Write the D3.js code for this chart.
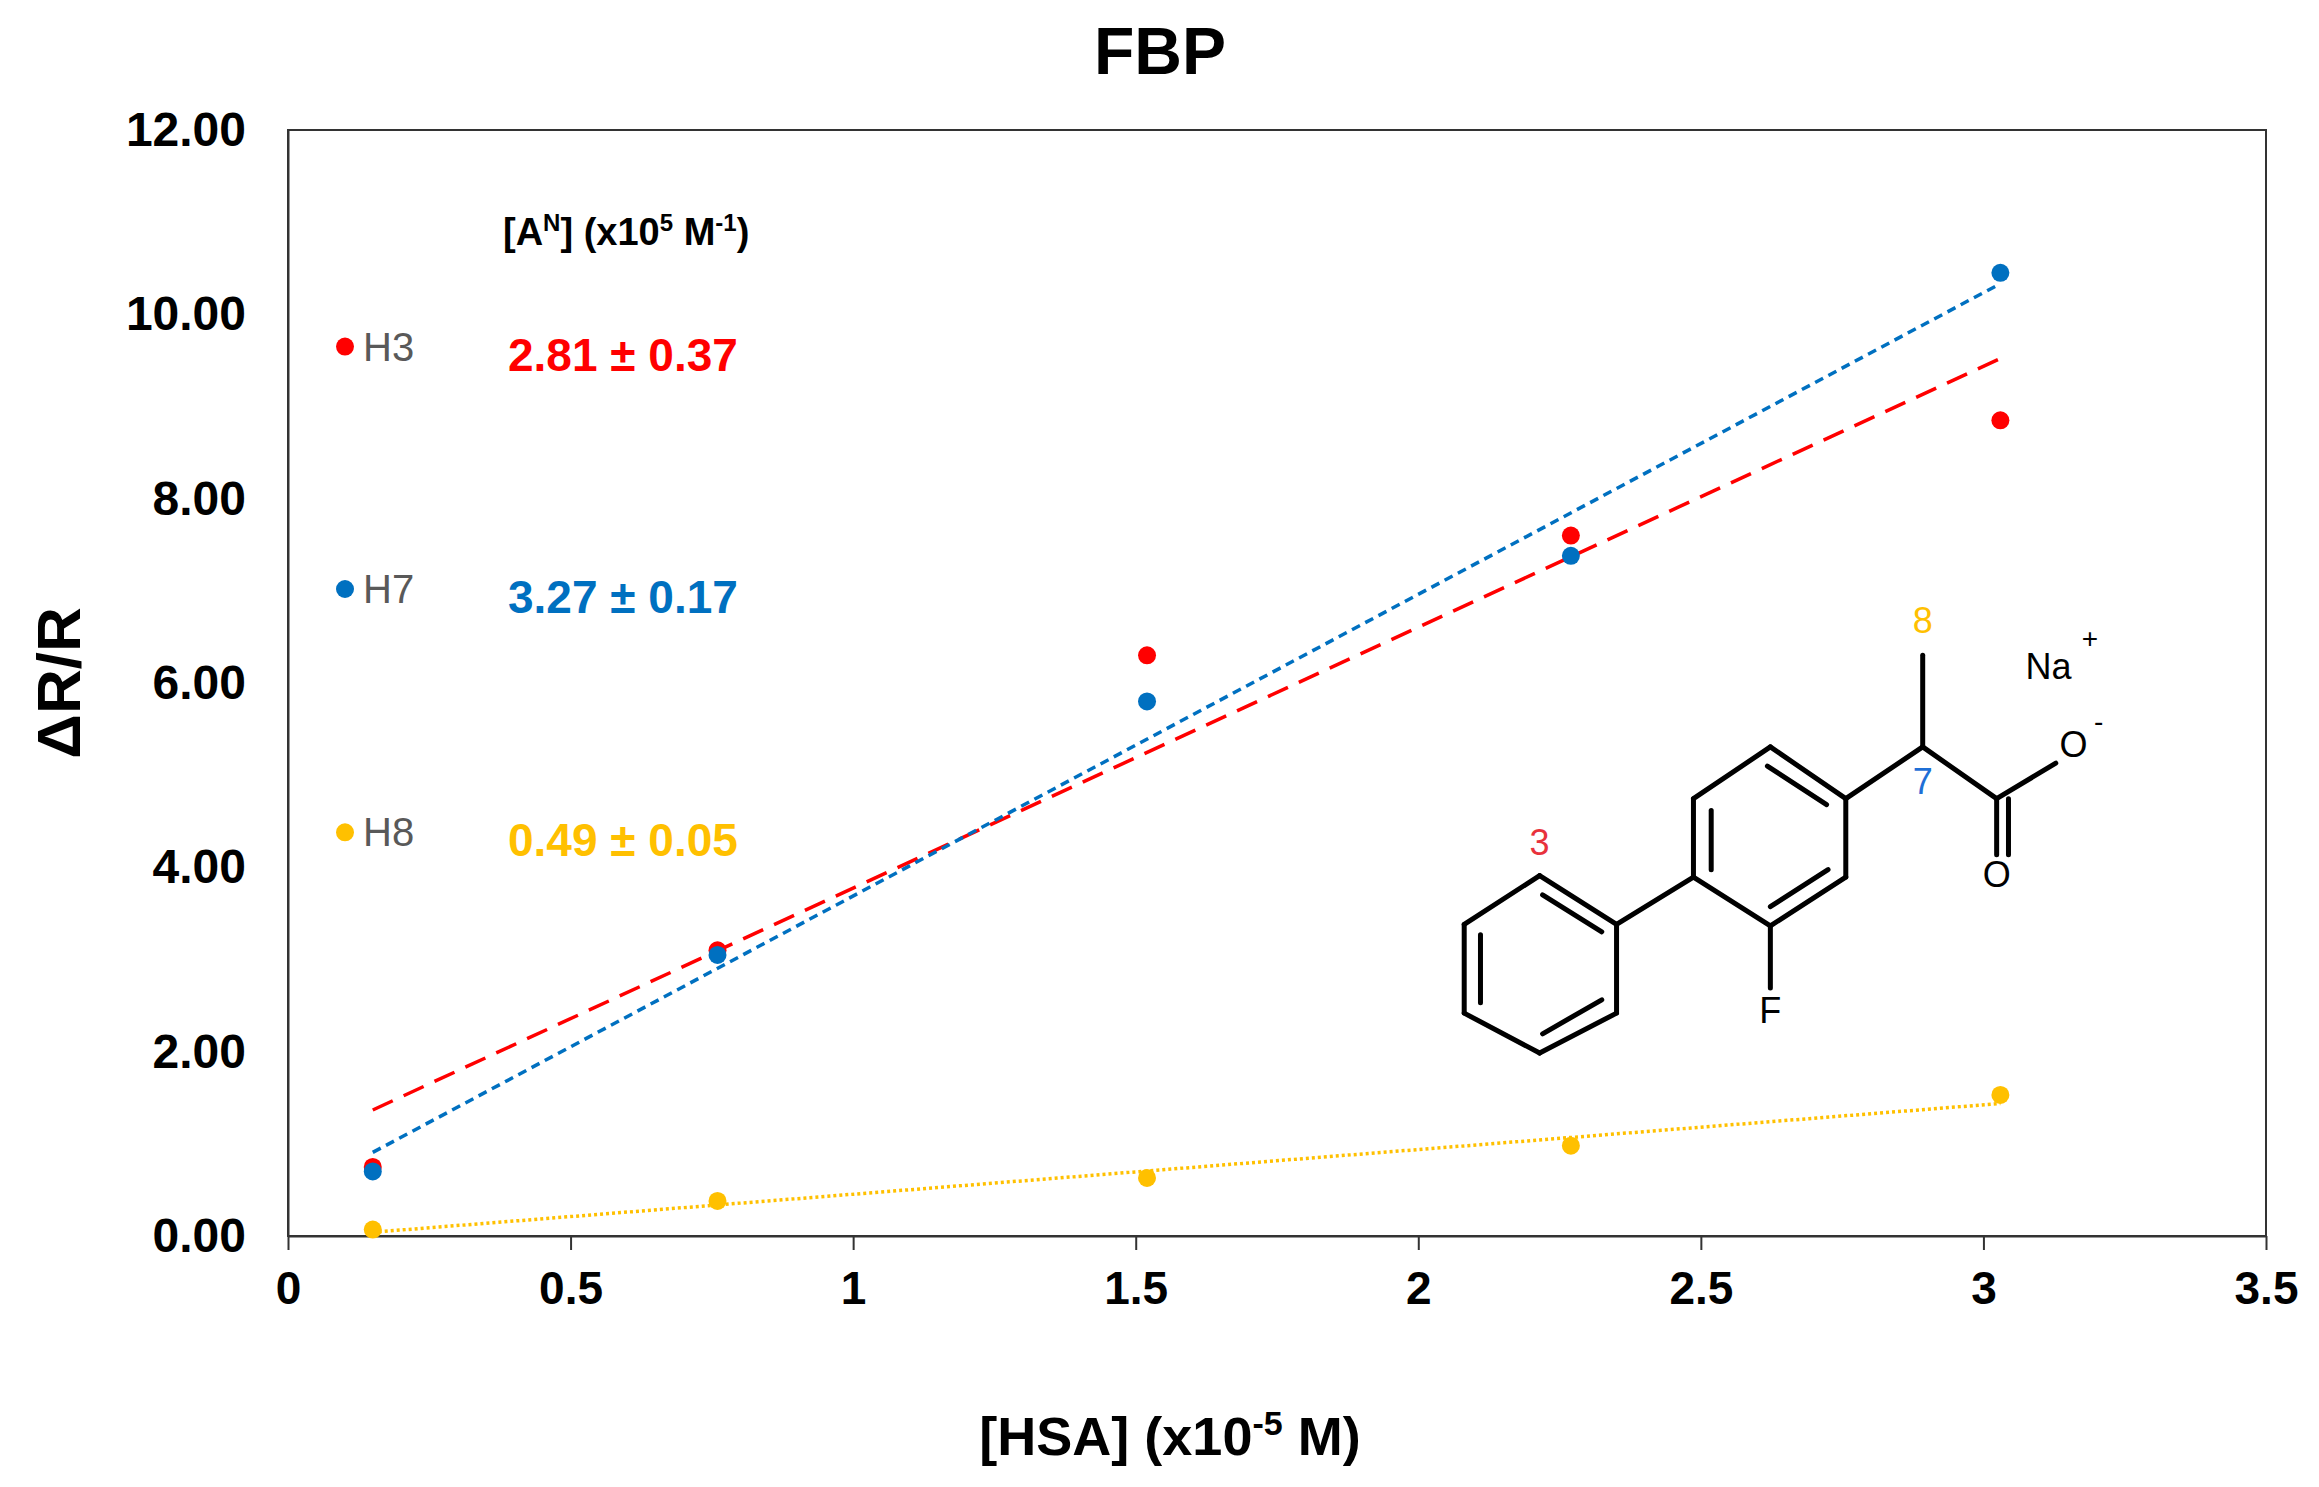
<!DOCTYPE html>
<html>
<head>
<script src="https://d3js.org/d3.v7.min.js"></script>
<style>
  body { margin: 0; background: #fff; }
  text { font-family: "Liberation Sans", Arial, sans-serif; }
</style>
</head>
<body>
<script>
// data
var hsa = [0.15, 0.76, 1.52, 2.27, 3.03];
var h3 = [0.75, 3.10, 6.30, 7.60, 8.85];
var h7 = [0.70, 3.05, 5.80, 7.38, 10.45];
var h8 = [0.07, 0.38, 0.63, 0.98, 1.53];
var xTicks = [0, 0.5, 1, 1.5, 2, 2.5, 3, 3.5];
var yTicks = [0, 2, 4, 6, 8, 10, 12];
var series = [
  {name: "H3", vals: h3, color: "#ff0000", dash: "22,12", label: "2.81 \u00b1 0.37", legendY: 9.65},
  {name: "H8", vals: h8, color: "#ffc000", dash: "3,3", label: "0.49 \u00b1 0.05", legendY: 4.38},
  {name: "H7", vals: h7, color: "#0070c0", dash: "9,6", label: "3.27 \u00b1 0.17", legendY: 7.02}
];

var W = 2319, H = 1487;
var svg = d3.select("body").append("svg").attr("width", W).attr("height", H);
var x = d3.scaleLinear().domain([0, 3.5]).range([288, 2266]);
var y = d3.scaleLinear().domain([0, 12]).range([1236, 130]);

svg.append("rect").attr("x", 288).attr("y", 130).attr("width", 2266 - 288).attr("height", 1236 - 130)
  .attr("fill", "none").attr("stroke", "#333").attr("stroke-width", 2);

var xa = svg.append("g").attr("transform", "translate(0,1236)")
  .call(d3.axisBottom(x).tickValues(xTicks).tickFormat(d3.format("")).tickSize(14).tickSizeOuter(0));
xa.selectAll("text").attr("font-size", 46).attr("font-weight", "bold").attr("fill", "#000").attr("dy", "1.1em");
var ya = svg.append("g").attr("transform", "translate(288,0)")
  .call(d3.axisLeft(y).tickValues(yTicks).tickFormat(d3.format(".2f")).tickSize(0));
ya.selectAll("text").attr("font-size", 48).attr("font-weight", "bold").attr("fill", "#000").attr("x", -42);
svg.selectAll(".domain").attr("stroke", "#333").attr("stroke-width", 2);
svg.selectAll(".tick line").attr("stroke", "#333").attr("stroke-width", 2);

// trend lines (least squares)
series.forEach(function(s) {
  var mx = d3.mean(hsa), my = d3.mean(s.vals);
  var sxy = d3.sum(hsa, function(v, i) { return (v - mx) * (s.vals[i] - my); });
  var sxx = d3.sum(hsa, function(v) { return (v - mx) * (v - mx); });
  var b = sxy / sxx, a = my - b * mx;
  svg.append("line")
    .attr("x1", x(hsa[0])).attr("y1", y(a + b * hsa[0]))
    .attr("x2", x(hsa[4])).attr("y2", y(a + b * hsa[4]))
    .attr("stroke", s.color).attr("stroke-width", 3.5).attr("stroke-dasharray", s.dash);
});
series.forEach(function(s) {
  svg.selectAll(null).data(s.vals).enter().append("circle")
    .attr("cx", function(d, i) { return x(hsa[i]); })
    .attr("cy", function(d) { return y(d); })
    .attr("r", 9).attr("fill", s.color);
  // legend
  svg.append("circle").attr("cx", 345).attr("cy", y(s.legendY)).attr("r", 9).attr("fill", s.color);
  svg.append("text").attr("x", 363).attr("y", y(s.legendY) + 14).attr("font-size", 40)
    .attr("fill", "#595959").text(s.name);
  svg.append("text").attr("x", 508).attr("y", y(s.legendY) + 24).attr("font-size", 46)
    .attr("font-weight", "bold").attr("fill", s.color).text(s.label);
});

var hdr = svg.append("text").attr("x", 503).attr("y", 245).attr("font-size", 38).attr("font-weight", "bold");
hdr.append("tspan").text("[A");
hdr.append("tspan").attr("font-size", 24).attr("dy", -14).text("N");
hdr.append("tspan").attr("dy", 14).text("] (x10");
hdr.append("tspan").attr("font-size", 24).attr("dy", -14).text("5");
hdr.append("tspan").attr("dy", 14).text(" M");
hdr.append("tspan").attr("font-size", 24).attr("dy", -14).text("-1");
hdr.append("tspan").attr("dy", 14).text(")");

svg.append("text").attr("x", 1160).attr("y", 74).attr("text-anchor", "middle")
  .attr("font-size", 66).attr("font-weight", "bold").text("FBP");
var xt = svg.append("text").attr("x", 1170).attr("y", 1455).attr("text-anchor", "middle")
  .attr("font-size", 54).attr("font-weight", "bold");
xt.append("tspan").text("[HSA] (x10");
xt.append("tspan").attr("font-size", 34).attr("dy", -20).text("-5");
xt.append("tspan").attr("dy", 20).text(" M)");
svg.append("text").attr("transform", "translate(80,683) rotate(-90)").attr("text-anchor", "middle")
  .attr("font-size", 62).attr("font-weight", "bold").text("\u0394R/R");

// structure of flurbiprofen sodium (display coords scaled)
var k = 1.479;
function P(p) { return [p[0] * k, p[1] * k]; }
var bonds = [
  [[1041,592],[1093,625]],[[1093,625],[1093,685]],[[1093,685],[1041,712]],[[1041,712],[990,685]],[[990,685],[990,625]],[[990,625],[1041,592]],
  [[1145,540],[1197,505]],[[1197,505],[1248,540]],[[1248,540],[1248,593]],[[1248,593],[1197,626]],[[1197,626],[1145,593]],[[1145,593],[1145,540]],
  [[1093,625],[1145,593]],[[1197,626],[1197,668]],[[1248,540],[1300,505]],[[1300,505],[1300,443]],
  [[1300,505],[1350,540]],[[1350,540],[1390,516]],[[1350,540],[1350,578]],[[1358,540],[1358,578]],
  // inner double bond lines
  [[1043,605],[1083,630]],[[1001,632],[1001,678]],[[1043,699],[1083,676]],
  [[1195,518],[1235,544]],[[1157,548],[1157,588]],[[1197,613],[1236,588]]
];
svg.append("g").selectAll("line").data(bonds).enter().append("line")
  .attr("x1", function(d) { return P(d[0])[0]; }).attr("y1", function(d) { return P(d[0])[1]; })
  .attr("x2", function(d) { return P(d[1])[0]; }).attr("y2", function(d) { return P(d[1])[1]; })
  .attr("stroke", "#000").attr("stroke-width", 5).attr("stroke-linecap", "round");
var labels = [
  ["3", 1041, 578, "#e8323c"], ["8", 1300, 428, "#ffc000"], ["7", 1300, 537, "#1f6fd6"],
  ["F", 1197, 692, "#000"], ["O", 1350, 600, "#000"], ["O", 1402, 512, "#000"], ["Na", 1385, 459, "#000"],
  ["+", 1413, 438, "#000"], ["-", 1419, 494, "#000"]
];
svg.append("g").selectAll("text").data(labels).enter().append("text")
  .attr("x", function(d) { return d[1] * k; }).attr("y", function(d) { return d[2] * k; })
  .attr("text-anchor", "middle").attr("font-size", function(d) { return d[0] == "+" || d[0] == "-" ? 28 : 36; })
  .attr("fill", function(d) { return d[3]; }).text(function(d) { return d[0]; });
</script>
</body>
</html>
